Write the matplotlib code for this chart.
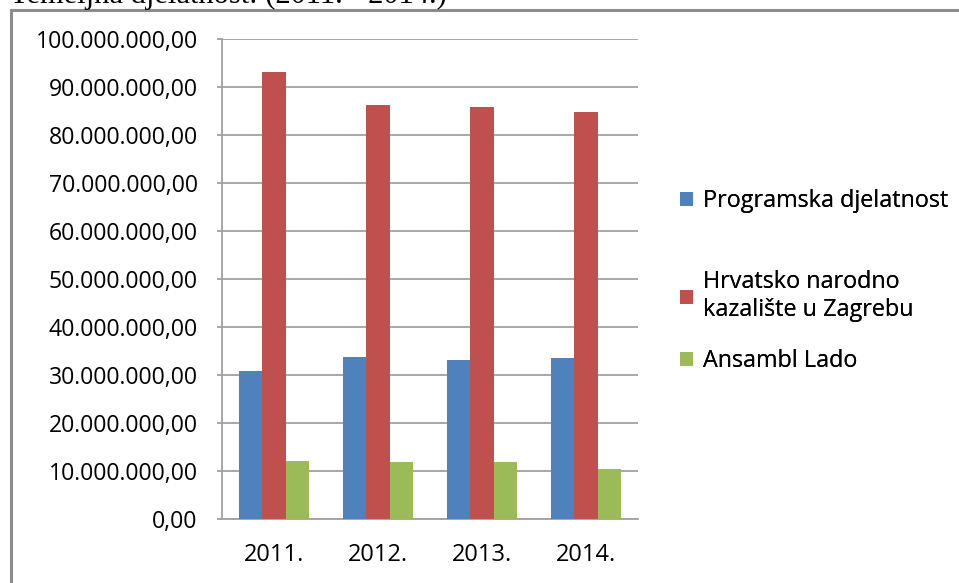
import matplotlib.pyplot as plt
import numpy as np
from matplotlib.lines import Line2D
from matplotlib.ticker import FuncFormatter

plt.rcParams['font.family'] = ['Open Sans', 'DejaVu Sans']

godine = ['2011.', '2012.', '2013.', '2014.']
programska = [30.8e6, 33.75e6, 33.2e6, 33.5e6]
hnk = [93.1e6, 86.2e6, 85.8e6, 84.7e6]
lado = [12.1e6, 11.8e6, 11.8e6, 10.5e6]
nazivi = ['Programska djelatnost', 'Hrvatsko narodno\nkazalište u Zagrebu', 'Ansambl Lado']
boje = ['#4F81BD', '#C0504D', '#9BBB59']

W, H = 959, 583
fig = plt.figure(figsize=(W / 100, H / 100), dpi=100)
ax = fig.add_axes([222 / W, 1 - 519 / H, 416 / W, 480 / H])

x = np.arange(len(godine))
sirina = 1 / 4.5
serije = []
for i, (vals, boja) in enumerate(zip([programska, hnk, lado], boje)):
    b = ax.bar(x + (i - 1) * sirina, vals, sirina, color=boja, zorder=3)
    serije.append(b)

ax.set_xlim(-0.5, len(godine) - 0.5)
ax.set_ylim(0, 100e6)
ax.set_yticks(np.arange(0, 100e6 + 1, 10e6))
ax.yaxis.set_major_formatter(FuncFormatter(
    lambda v, p: '{:,.2f}'.format(v).replace(',', 'X').replace('.', ',').replace('X', '.')))
ax.set_xticks(x)
ax.set_xticklabels(godine)
ax.grid(axis='y', color='#A0A0A0', linewidth=1.3, zorder=0)
for s in ['top', 'right']:
    ax.spines[s].set_visible(False)
for s in ['left', 'bottom']:
    ax.spines[s].set_color('#A0A0A0')
    ax.spines[s].set_linewidth(1.3)
ax.tick_params(axis='y', length=3.5, color='#A0A0A0', width=1.3, pad=14, labelsize=16.6)
ax.tick_params(axis='x', length=0, pad=17, labelsize=17)

# legenda, svaka stavka posebno
pozicije = [201, 296, 361]
for b, naziv, yp in zip(serije, nazivi, pozicije):
    leg = fig.legend([b], [naziv], loc='center left', bbox_to_anchor=(680 / W, 1 - yp / H),
                     frameon=False, fontsize=16.8, borderpad=0, borderaxespad=0,
                     handlelength=0.55, handleheight=0.55, handletextpad=0.42, labelspacing=0)
    leg.get_texts()[0].set_linespacing(1.2)
    fig.add_artist(leg)

# okvir slike
fig.add_artist(Line2D([11 / W, 11 / W], [0, 1 - 10 / H], color='#8C8C8C', linewidth=2.2))
fig.add_artist(Line2D([11 / W, 1], [1 - 10 / H, 1 - 10 / H], color='#8C8C8C', linewidth=2.2))

# odrezani naslov iznad
fig.text(447 / W, 1 - 3 / H, 'Temeljna djelatnost: (2011. - 2014.)', ha='right', va='baseline',
         fontsize=22, family='Liberation Serif')

fig.savefig('out.png', dpi=100)
